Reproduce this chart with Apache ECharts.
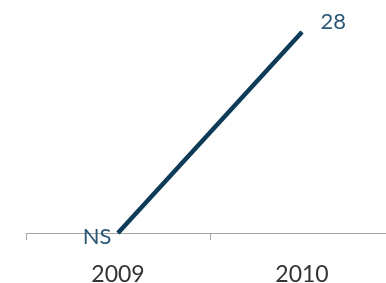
<!DOCTYPE html>
<html>
  <head>
    <meta http-equiv="Content-Type" content="text/html; charset=utf-8" />
    <title>index.html</title>
    <style type="text/css">
      html,body{margin:0;padding:0;background:#fff;}
      #chart1{width:386px;height:283px;}
    </style>
    <script type="text/javascript" src="https://cdn.jsdelivr.net/npm/echarts@6/dist/echarts.min.js"></script>
  </head>
  <body>
    <div id="chart1"></div>
  </body>
  <script type="text/javascript">
    var years = ['2009', '2010'];   // x轴
    var values = [0, 28];           // 数值
    var pointLabels = ['NS', '28']; // 点上的标签

    var myChart = echarts.init(document.getElementById('chart1'));

    myChart.setOption({
      animation: false,
      grid: {left: 26, right: -8, top: 32, bottom: 50, outerBoundsMode: 'none'},
      xAxis: {
        type: 'category',
        data: years,
        boundaryGap: true,
        axisLine: {lineStyle: {color: '#a6a6a6', width: 1}},
        axisTick: {show: true, alignWithLabel: false, length: 7, lineStyle: {color: '#a6a6a6'}},
        axisLabel: {color: '#333333', fontSize: 23, fontFamily: 'Lato', margin: 30}
      },
      yAxis: {
        type: 'value',
        min: 0,
        max: 28,
        show: false
      },
      series: [{
        type: 'line',
        symbol: 'circle',
        symbolSize: 1,
        itemStyle: {color: '#0d3b58'},
        lineStyle: {color: '#0d3b58', width: 4.5},
        label: {
          show: true,
          color: '#2b5877',
          fontSize: 22,
          fontFamily: 'Lato',
          formatter: function (p) { return pointLabels[p.dataIndex]; }
        },
        // 单独设置每个点的标签位置
        data: [
          {value: values[0], label: {position: 'left', distance: 6, offset: [0, 4]}},
          {value: values[1], label: {position: 'right', distance: 18, offset: [0, -10]}}
        ]
      }]
    });
  </script>
</html>
